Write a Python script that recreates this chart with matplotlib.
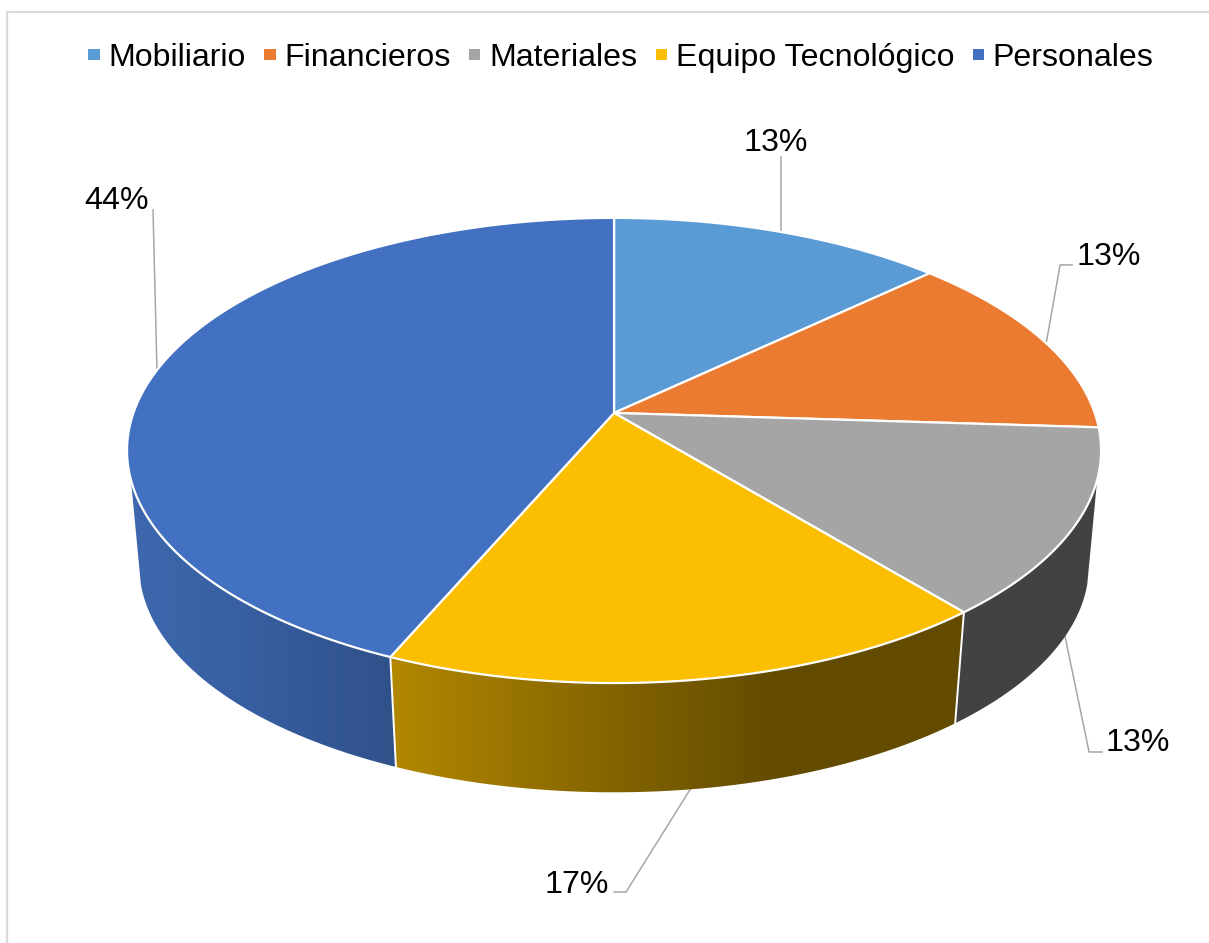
import numpy as np
import matplotlib
matplotlib.use("Agg")
import matplotlib.pyplot as plt
from matplotlib.colors import LinearSegmentedColormap
from matplotlib.patches import Patch, Polygon

categories = ["Mobiliario", "Financieros", "Materiales", "Equipo Tecnológico", "Personales"]
values = [13.0, 13.0, 13.0, 17.49, 43.51]
colors = ["#5B9BD5", "#EB7B31", "#A5A5A5", "#FBBE00", "#4371C1"]

# side wall colours: (start x, end x, colour stops), only lower rim slices show
side_shades = {
    2: (945, 1105, ["#424242", "#424242"]),
    3: (385, 970, ["#B48900", "#8A6900", "#634B00", "#634B00"]),
    4: (125, 405, ["#3D69AF", "#375D9E", "#2F5088"]),
}

# label text, label centre, leader line (in image pixels)
label_pos = [(776, 143), (1109, 257), (1138, 743), (577, 885), (116, 201)]
leaders = [
    ([781, 781], [157, 234]),
    ([1072, 1060, 1046], [265, 265, 344]),
    ([1102, 1089, 1064], [752, 752, 632]),
    ([614, 626, 691], [892, 892, 788]),
    ([153, 157], [210, 372]),
]

# pie geometry, fitted to the picture
cx, cy = 614, 413
rx, ry = 480.6, 226.5
persp = 0.1613
low_scale = 0.975
low_shift = 116
sil_right = (106.4, 104)  # where the wall outline leaves the rims, degrees
sil_left = (253.6, 256)


def rim(deg, lower=False):
    t = np.radians(deg)
    u, v = np.sin(t), np.cos(t)
    w = 1 + persp * v
    x, y = rx * u / w, -ry * v / w
    if lower:
        return cx + low_scale * x, cy + low_scale * y + low_shift
    return cx + x, cy + y


fig = plt.figure(figsize=(12.091, 9.431), dpi=100)
ax = fig.add_axes([0, 0, 1, 1])
plt.rcParams["font.family"] = ["Liberation Sans", "DejaVu Sans"]

# chart frame, only top and left show up
ax.plot([1209, 7, 7], [12, 12, 943], color="#D9D9D9", lw=1.6, zorder=1)

for (lx, ly) in leaders:
    ax.plot(lx, ly, color="#A6A6A6", lw=1.1, zorder=2)

edges = np.concatenate([[0], np.cumsum(values)]) * 3.6

# side walls
for i, (x0, x1, stops) in side_shades.items():
    a0, a1 = edges[i], edges[i + 1]
    a_up0, a_low0 = max(a0, sil_right[0]), max(a0, sil_right[1])
    a_up1, a_low1 = min(a1, sil_left[0]), min(a1, sil_left[1])
    up = np.array(rim(np.linspace(a_up0, a_up1, 200))).T
    low = np.array(rim(np.linspace(a_low0, a_low1, 200), lower=True)).T
    poly = Polygon(np.vstack([up, low[::-1]]), closed=True, fc="none", ec="none",
                   transform=ax.transData)
    ax.add_patch(poly)
    cmap = LinearSegmentedColormap.from_list("side", stops)
    im = ax.imshow(np.linspace(0, 1, 256).reshape(1, -1), cmap=cmap, aspect="auto",
                   extent=(x0, x1, 800, 450), zorder=3)
    im.set_clip_path(poly)

# white lines between walls
for a in [edges[3], edges[4]]:
    xs = [rim(a)[0], rim(a, lower=True)[0]]
    ys = [rim(a)[1], rim(a, lower=True)[1]]
    ax.plot(xs, ys, color="white", lw=1.4, zorder=4)

# top face
for i in range(len(values)):
    x, y = rim(np.linspace(edges[i], edges[i + 1], 200))
    pts = np.column_stack([np.r_[cx, x], np.r_[cy, y]])
    ax.add_patch(Polygon(pts, closed=True, fc=colors[i], ec="white", lw=1.6,
                         joinstyle="round", zorder=5))

for v, (tx, ty) in zip(values, label_pos):
    ax.text(tx, ty, f"{v:.0f}%", ha="center", va="center", fontsize=23.1,
            color="black", zorder=6)

handles = [Patch(fc=c, ec="none", label=n) for c, n in zip(colors, categories)]
ax.legend(handles=handles, ncol=5, loc="center", bbox_to_anchor=(621 / 1209, 1 - 58 / 943),
          bbox_transform=fig.transFigure, frameon=False, fontsize=23.1,
          handlelength=0.35, handleheight=0.16, handletextpad=0.27, columnspacing=0.58,
          borderpad=0, borderaxespad=0)

ax.set_xlim(0, 1209)
ax.set_ylim(943, 0)
ax.axis("off")

fig.savefig("out.png", dpi=100, facecolor="white")
